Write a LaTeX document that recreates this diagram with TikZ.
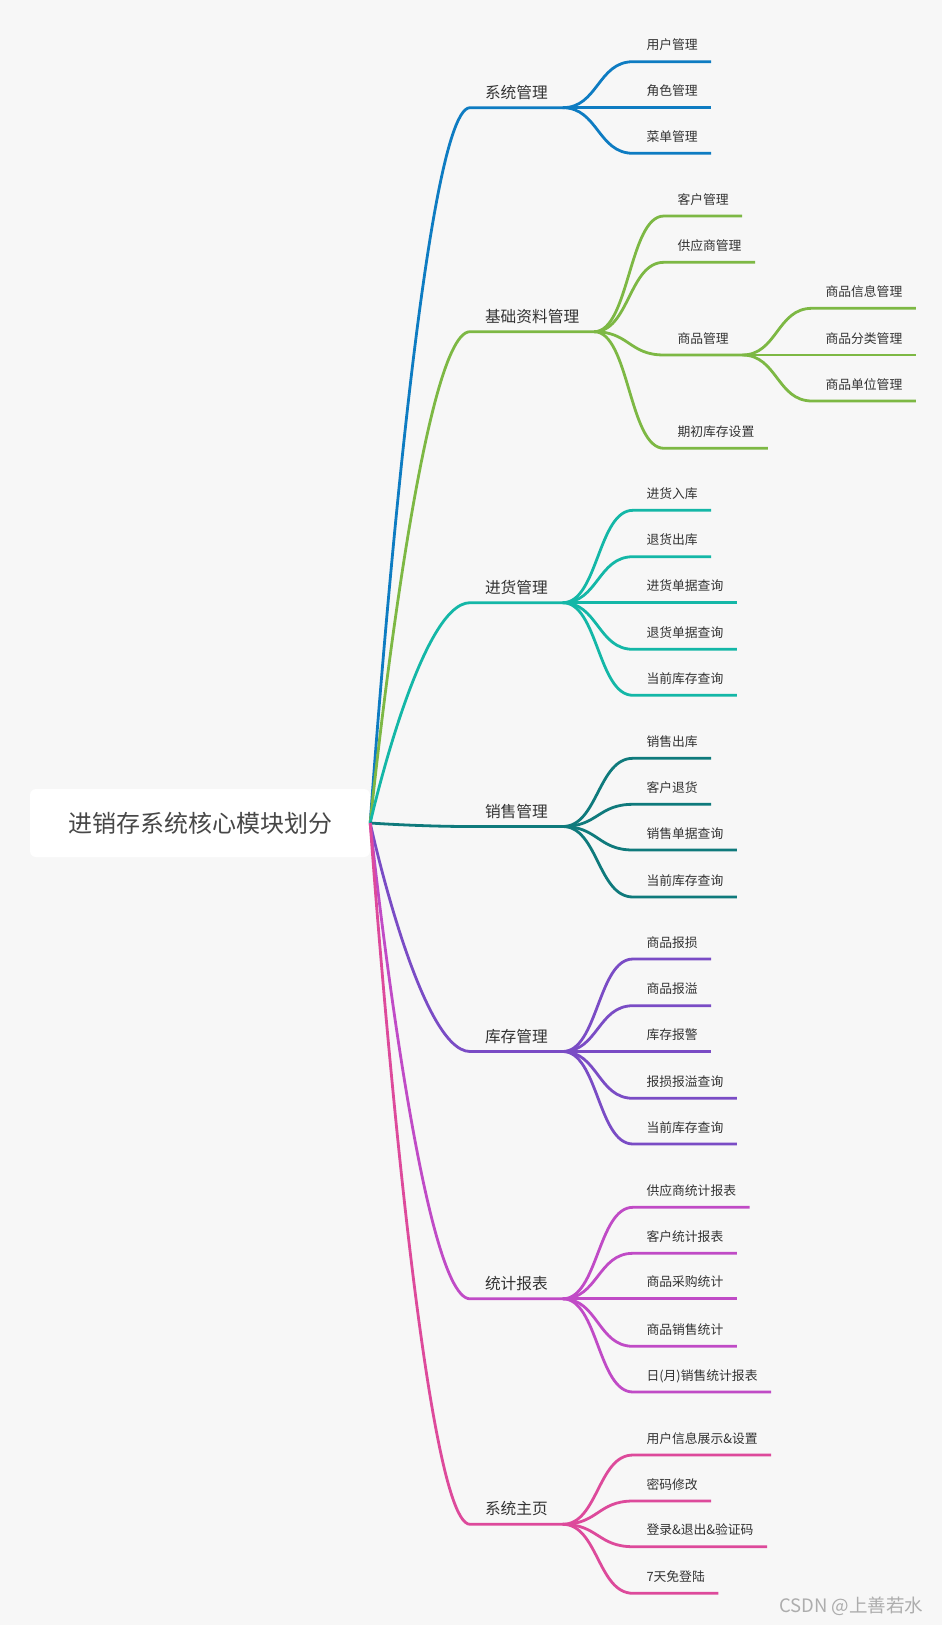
\documentclass[tikz,border=0pt]{standalone}
\usepackage{fontspec}
\setmainfont{Noto Sans CJK SC}
\definecolor{xtblue}{HTML}{0E7CC2}
\definecolor{jcgreen}{HTML}{7DB844}
\definecolor{jhteal}{HTML}{14B7A7}
\definecolor{xsteal}{HTML}{0F7A7C}
\definecolor{kcpurple}{HTML}{7A4CC5}
\definecolor{tjmagenta}{HTML}{C04BC6}
\definecolor{zypink}{HTML}{DD4A9B}
\definecolor{bggray}{HTML}{F7F7F7}
\definecolor{txtgray}{HTML}{333333}
\begin{document}
\begin{tikzpicture}[x=1pt,y=-1pt,
  rootbox/.style={fill=white, rounded corners=6pt, minimum width=340pt, minimum height=68pt, font=\fontsize{24}{28}\selectfont, text=txtgray!90},
  topic/.style={anchor=south west, inner xsep=15pt, inner ysep=9.5pt, outer sep=0pt, text depth=0pt, font=\fontsize{15.7}{18}\selectfont, text=txtgray},
  subtopic/.style={anchor=south west, inner xsep=13.5pt, inner ysep=12pt, outer sep=0pt, text depth=0pt, font=\fontsize{12.8}{15}\selectfont, text=txtgray},
  branch/.style={line width=2.8pt}]
% background first
\fill[bggray] (0,0) rectangle (942,1625);
\useasboundingbox (0,0) rectangle (942,1625);

\node[rootbox] (root) at (200,823) {进销存系统核心模块划分};

% first level
\node[topic] (xt) at (470,107.7) {系统管理};
\node[topic] (jc) at (470,331.7) {基础资料管理};
\node[topic] (jh) at (470,602.7) {进货管理};
\node[topic] (xs) at (470,826.5) {销售管理};
\node[topic] (kc) at (470,1051.5) {库存管理};
\node[topic] (tj) at (470,1298.8) {统计报表};
\node[topic] (zy) at (470,1524.3) {系统主页};

\draw[branch, xtblue] (root.east) .. controls +(0,0) and +(-50,0) .. (xt.south west) -- (xt.south east);
\draw[branch, jcgreen] (root.east) .. controls +(0,0) and +(-50,0) .. (jc.south west) -- (jc.south east);
\draw[branch, jhteal] (root.east) .. controls +(0,0) and +(-50,0) .. (jh.south west) -- (jh.south east);
\draw[branch, xsteal] (root.east) .. controls +(0,0) and +(-50,0) .. (xs.south west) -- (xs.south east);
\draw[branch, kcpurple] (root.east) .. controls +(0,0) and +(-50,0) .. (kc.south west) -- (kc.south east);
\draw[branch, tjmagenta] (root.east) .. controls +(0,0) and +(-50,0) .. (tj.south west) -- (tj.south east);
\draw[branch, zypink] (root.east) .. controls +(0,0) and +(-50,0) .. (zy.south west) -- (zy.south east);

% 系统管理
\node[subtopic] (xt1) at (633,61.7) {用户管理};
\node[subtopic] (xt2) at (633,107.7) {角色管理};
\node[subtopic] (xt3) at (633,153.3) {菜单管理};
\draw[branch, xtblue] (xt.south east) .. controls +(35,0) and +(-35,0) .. (xt1.south west) -- (xt1.south east);
\draw[branch, xtblue] (xt.south east) .. controls +(35,0) and +(-35,0) .. (xt2.south west) -- (xt2.south east);
\draw[branch, xtblue] (xt.south east) .. controls +(35,0) and +(-35,0) .. (xt3.south west) -- (xt3.south east);

% 基础资料管理
\node[subtopic] (jc1) at (664,216) {客户管理};
\node[subtopic] (jc2) at (664,262.3) {供应商管理};
\node[subtopic] (jc3) at (664,355) {商品管理};
\node[subtopic] (jc4) at (664,448.3) {期初库存设置};
\draw[branch, jcgreen] (jc.south east) .. controls +(35,0) and +(-35,0) .. (jc1.south west) -- (jc1.south east);
\draw[branch, jcgreen] (jc.south east) .. controls +(35,0) and +(-35,0) .. (jc2.south west) -- (jc2.south east);
\draw[branch, jcgreen] (jc.south east) .. controls +(35,0) and +(-35,0) .. (jc3.south west) -- (jc3.south east);
\draw[branch, jcgreen] (jc.south east) .. controls +(35,0) and +(-35,0) .. (jc4.south west) -- (jc4.south east);
\node[subtopic] (sp1) at (812,308.3) {商品信息管理};
\node[subtopic] (sp2) at (812,355) {商品分类管理};
\node[subtopic] (sp3) at (812,401) {商品单位管理};
\draw[branch, jcgreen] (jc3.south east) .. controls +(35,0) and +(-35,0) .. (sp1.south west) -- (sp1.south east);
\draw[branch, jcgreen] (jc3.south east) .. controls +(35,0) and +(-35,0) .. (sp2.south west) -- (sp2.south east);
\draw[branch, jcgreen] (jc3.south east) .. controls +(35,0) and +(-35,0) .. (sp3.south west) -- (sp3.south east);

% 进货管理
\node[subtopic] (jh1) at (633,510.3) {进货入库};
\node[subtopic] (jh2) at (633,556.7) {退货出库};
\node[subtopic] (jh3) at (633,602.7) {进货单据查询};
\node[subtopic] (jh4) at (633,649.3) {退货单据查询};
\node[subtopic] (jh5) at (633,695.3) {当前库存查询};
\draw[branch, jhteal] (jh.south east) .. controls +(35,0) and +(-35,0) .. (jh1.south west) -- (jh1.south east);
\draw[branch, jhteal] (jh.south east) .. controls +(35,0) and +(-35,0) .. (jh2.south west) -- (jh2.south east);
\draw[branch, jhteal] (jh.south east) .. controls +(35,0) and +(-35,0) .. (jh3.south west) -- (jh3.south east);
\draw[branch, jhteal] (jh.south east) .. controls +(35,0) and +(-35,0) .. (jh4.south west) -- (jh4.south east);
\draw[branch, jhteal] (jh.south east) .. controls +(35,0) and +(-35,0) .. (jh5.south west) -- (jh5.south east);

% 销售管理
\node[subtopic] (xs1) at (633,758.3) {销售出库};
\node[subtopic] (xs2) at (633,804.3) {客户退货};
\node[subtopic] (xs3) at (633,850) {销售单据查询};
\node[subtopic] (xs4) at (633,897) {当前库存查询};
\draw[branch, xsteal] (xs.south east) .. controls +(35,0) and +(-35,0) .. (xs1.south west) -- (xs1.south east);
\draw[branch, xsteal] (xs.south east) .. controls +(35,0) and +(-35,0) .. (xs2.south west) -- (xs2.south east);
\draw[branch, xsteal] (xs.south east) .. controls +(35,0) and +(-35,0) .. (xs3.south west) -- (xs3.south east);
\draw[branch, xsteal] (xs.south east) .. controls +(35,0) and +(-35,0) .. (xs4.south west) -- (xs4.south east);

% 库存管理
\node[subtopic] (kc1) at (633,959) {商品报损};
\node[subtopic] (kc2) at (633,1005.7) {商品报溢};
\node[subtopic] (kc3) at (633,1051.5) {库存报警};
\node[subtopic] (kc4) at (633,1098.3) {报损报溢查询};
\node[subtopic] (kc5) at (633,1144) {当前库存查询};
\draw[branch, kcpurple] (kc.south east) .. controls +(35,0) and +(-35,0) .. (kc1.south west) -- (kc1.south east);
\draw[branch, kcpurple] (kc.south east) .. controls +(35,0) and +(-35,0) .. (kc2.south west) -- (kc2.south east);
\draw[branch, kcpurple] (kc.south east) .. controls +(35,0) and +(-35,0) .. (kc3.south west) -- (kc3.south east);
\draw[branch, kcpurple] (kc.south east) .. controls +(35,0) and +(-35,0) .. (kc4.south west) -- (kc4.south east);
\draw[branch, kcpurple] (kc.south east) .. controls +(35,0) and +(-35,0) .. (kc5.south west) -- (kc5.south east);

% 统计报表
\node[subtopic] (tj1) at (633,1207.3) {供应商统计报表};
\node[subtopic] (tj2) at (633,1253.3) {客户统计报表};
\node[subtopic] (tj3) at (633,1298.8) {商品采购统计};
\node[subtopic] (tj4) at (633,1346.3) {商品销售统计};
\node[subtopic] (tj5) at (633,1392) {日(月)销售统计报表};
\draw[branch, tjmagenta] (tj.south east) .. controls +(35,0) and +(-35,0) .. (tj1.south west) -- (tj1.south east);
\draw[branch, tjmagenta] (tj.south east) .. controls +(35,0) and +(-35,0) .. (tj2.south west) -- (tj2.south east);
\draw[branch, tjmagenta] (tj.south east) .. controls +(35,0) and +(-35,0) .. (tj3.south west) -- (tj3.south east);
\draw[branch, tjmagenta] (tj.south east) .. controls +(35,0) and +(-35,0) .. (tj4.south west) -- (tj4.south east);
\draw[branch, tjmagenta] (tj.south east) .. controls +(35,0) and +(-35,0) .. (tj5.south west) -- (tj5.south east);

% 系统主页
\node[subtopic] (zy1) at (633,1455) {用户信息展示\&设置};
\node[subtopic] (zy2) at (633,1501) {密码修改};
\node[subtopic] (zy3) at (633,1546.7) {登录\&退出\&验证码};
\node[subtopic] (zy4) at (633,1593.3) {7天免登陆};
\draw[branch, zypink] (zy.south east) .. controls +(35,0) and +(-35,0) .. (zy1.south west) -- (zy1.south east);
\draw[branch, zypink] (zy.south east) .. controls +(35,0) and +(-35,0) .. (zy2.south west) -- (zy2.south east);
\draw[branch, zypink] (zy.south east) .. controls +(35,0) and +(-35,0) .. (zy3.south west) -- (zy3.south east);
\draw[branch, zypink] (zy.south east) .. controls +(35,0) and +(-35,0) .. (zy4.south west) -- (zy4.south east);

\node[anchor=east, text=black!32, font=\fontsize{18.5}{21}\selectfont] (wm) at (927,1606) {CSDN @上善若水};
\end{tikzpicture}
\end{document}
